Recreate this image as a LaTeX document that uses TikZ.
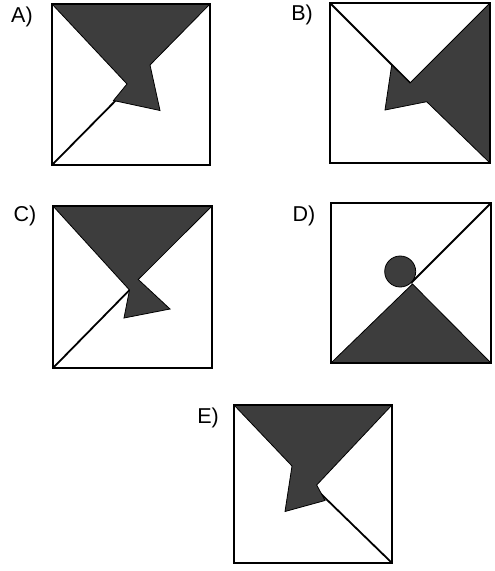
\documentclass[tikz,border=0pt]{standalone}
\usepackage{fontspec}
\setmainfont{Liberation Sans}
\begin{document}
\begin{tikzpicture}[x=1pt,y=-1pt,
  box/.style={draw=black,line width=2.3pt,line join=miter},
  diag/.style={draw=black,line width=1.8pt},
  shade/.style={fill=black!76,draw=black,line width=0.8pt,line join=miter},
  lab/.style={font=\fontsize{21.5}{21.5}\selectfont,inner sep=0pt}]
\useasboundingbox (0,0) rectangle (495,571);
% A
\draw[diag] (52,165) -- (131,85);
\filldraw[shade] (52,4) -- (210,4) -- (150,65) -- (160,110.5) -- (113.5,100.5) -- (127,84) -- cycle;
\draw[box] (52,4) rectangle (210,165);
\node[lab] (la) at (22,17) {A)};
% B
\draw[diag] (330,3) -- (410,83);
\filldraw[shade] (490,3) -- (410,83) -- (391.7,65) -- (385,110) -- (426.7,101.7) -- (490,163) -- cycle;
\draw[box] (330,3) rectangle (490,163);
\node[lab] (lb) at (302,15) {B)};
% C
\draw[diag] (53,368) -- (129.5,290);
\filldraw[shade] (53,206) -- (212,206) -- (138.3,279.5) -- (170,309) -- (124,318) -- (129.5,290) -- cycle;
\draw[box] (53,206) rectangle (212,368);
\node[lab] (lc) at (25,216) {C)};
% D
\draw[diag] (491,203) -- (411,283);
\filldraw[shade] (331,363) -- (412.5,284) -- (491,363) -- cycle;
\filldraw[shade] (400.2,271.5) circle (15.5);
\draw[box] (331,203) rectangle (491,363);
\node[lab] (ld) at (304,216) {D)};
% E
\draw[diag] (392,563) -- (320,493);
\filldraw[shade] (234,405) -- (392,405) -- (316.7,485) -- (325,500.5) -- (285,511.5) -- (292,466) -- cycle;
\draw[box] (234,405) rectangle (392,563);
\node[lab] (le) at (208,418) {E)};
\end{tikzpicture}
\end{document}
